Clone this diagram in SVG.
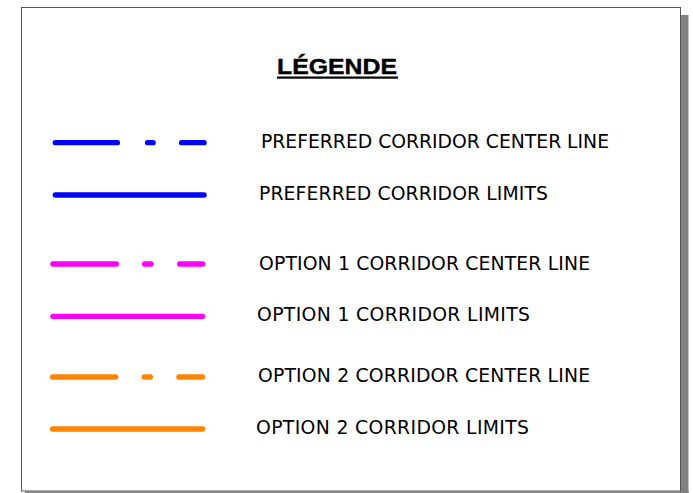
<svg xmlns="http://www.w3.org/2000/svg" width="693" height="493" viewBox="0 0 693 493">
<style>
.lbl{font-family:"DejaVu Sans","Verdana",sans-serif;font-size:18.8px;fill:#000}
.ln{fill:none;stroke-width:5.3;stroke-linecap:round}
.blue{stroke:#0000FF}
.mag{stroke:#FF00FF}
.org{stroke:#FF8400}
</style>
<rect x="0" y="0" width="693" height="493" fill="#ffffff"/>
<g id="frame">
<rect x="680.5" y="15" width="8" height="478" fill="#808080"/>
<rect x="25" y="491.5" width="664" height="2" fill="#808080"/>
<rect x="21.5" y="7.5" width="659" height="483.5" fill="#ffffff" stroke="#555555" stroke-width="1"/>
</g>
<g id="title">
<text x="277" y="74.3" font-family="'Liberation Sans',Arial,sans-serif" font-weight="bold" font-size="22" stroke="#000" stroke-width="0.4" textLength="120" lengthAdjust="spacingAndGlyphs">LÉGENDE</text>
<rect x="277" y="76.5" width="121" height="2.2" fill="#000"/>
</g>
<g id="connectors">
<g id="row1">
<path class="ln blue" d="M55.3,142.7H117.4M147.6,142.7H153.1M181.6,142.7H204.1"/>
</g>
<g id="row2">
<path class="ln blue" d="M55.3,195H204.1"/>
</g>
<g id="row3">
<path class="ln mag" d="M52.9,264H116.4M144.6,264H151.1M179.6,264H202.7"/>
</g>
<g id="row4">
<path class="ln mag" d="M52.9,316.3H202.7"/>
</g>
<g id="row5">
<path class="ln org" d="M52.6,377H115.7M144.3,377H150.4M178.9,377H202.7"/>
</g>
<g id="row6">
<path class="ln org" d="M52.6,429H202.7"/>
</g>
</g>
<g id="label1"><text class="lbl" x="261" y="148" textLength="348">PREFERRED CORRIDOR CENTER LINE</text></g>
<g id="label2"><text class="lbl" x="259" y="199.5" textLength="289">PREFERRED CORRIDOR LIMITS</text></g>
<g id="label3"><text class="lbl" x="259" y="269.5" textLength="331">OPTION 1 CORRIDOR CENTER LINE</text></g>
<g id="label4"><text class="lbl" x="257" y="321" textLength="273">OPTION 1 CORRIDOR LIMITS</text></g>
<g id="label5"><text class="lbl" x="258" y="382" textLength="332">OPTION 2 CORRIDOR CENTER LINE</text></g>
<g id="label6"><text class="lbl" x="256" y="434" textLength="273">OPTION 2 CORRIDOR LIMITS</text></g>
</svg>
